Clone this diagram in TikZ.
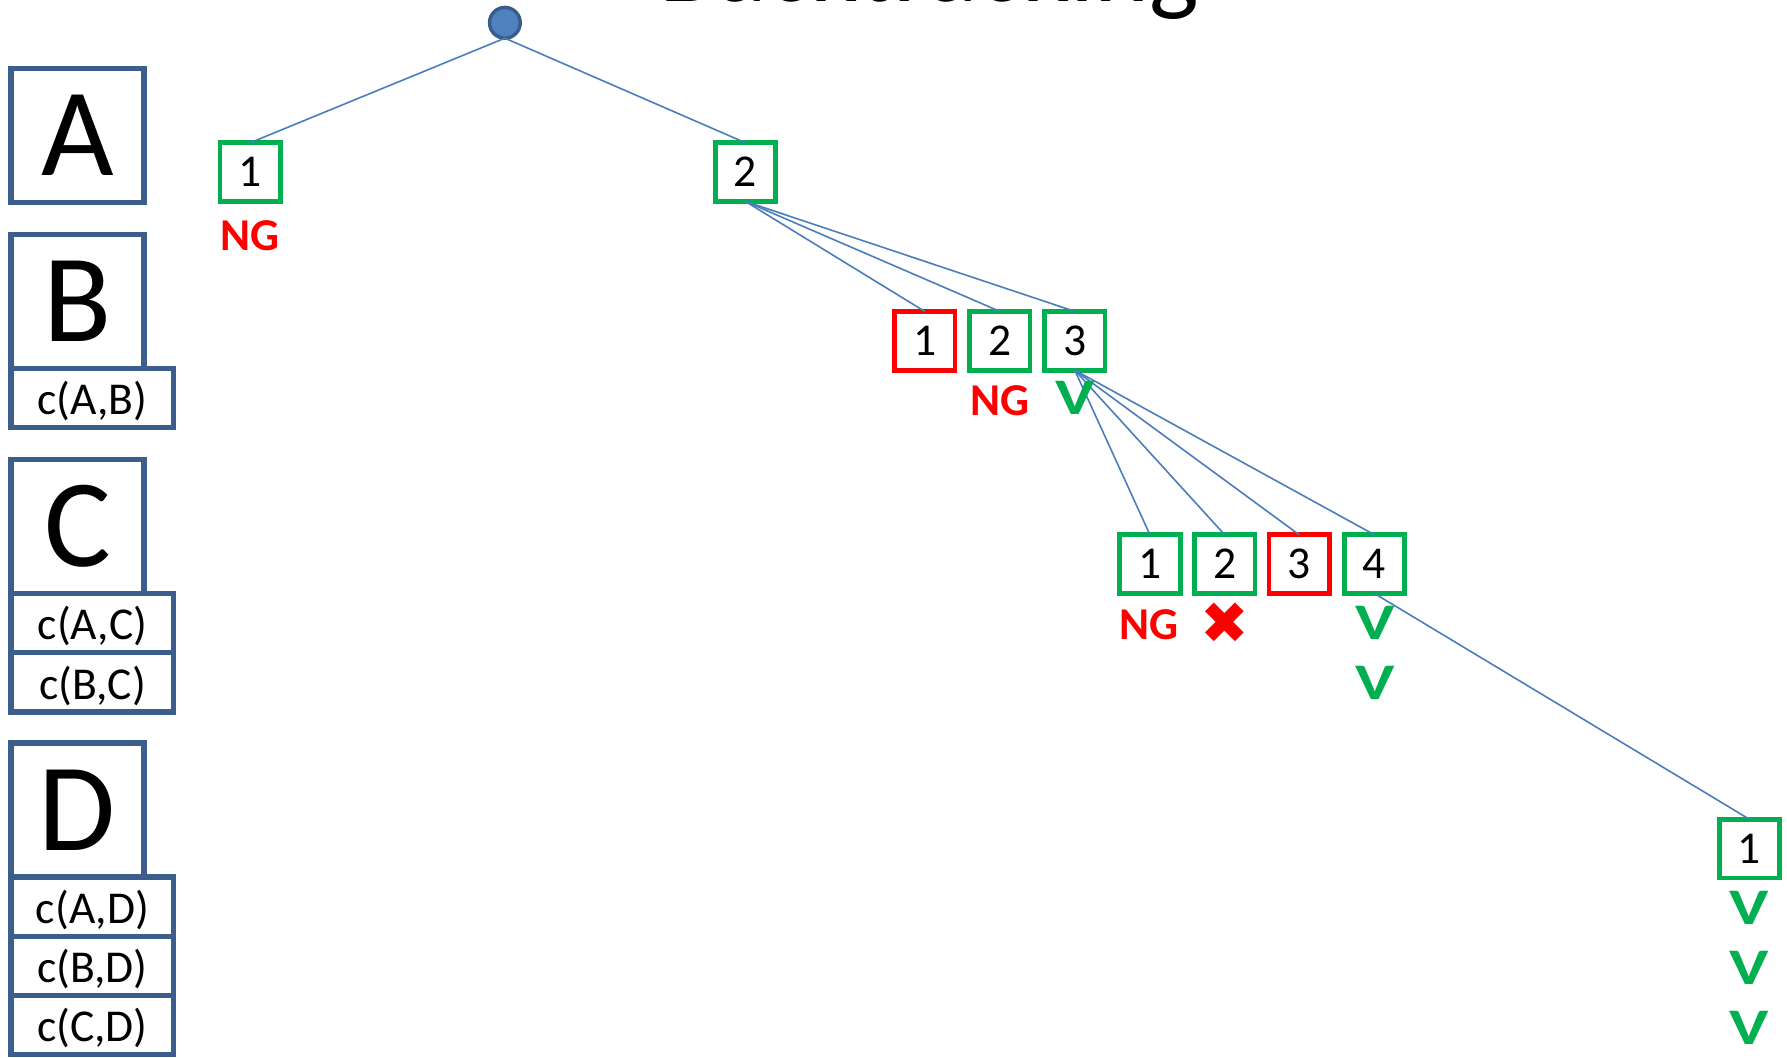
\documentclass[tikz,border=0pt]{standalone}
\usepackage{fontspec}
\setmainfont{Carlito}
\newfontfamily\symfont{DejaVu Sans}
\definecolor{boxblue}{HTML}{3B5E8C}
\definecolor{linkblue}{HTML}{4A7EBB}
\definecolor{rootfill}{HTML}{4F81BD}
\definecolor{rootdraw}{HTML}{385D8A}
\definecolor{okgreen}{HTML}{00B050}
\definecolor{ngred}{HTML}{FF0000}
\tikzset{
  lbox/.style={draw=boxblue, line width=4.7pt, inner sep=0pt, outer sep=0pt,
    minimum width=116.5pt, minimum height=117.5pt, anchor=north west,
    font=\fontsize{110}{110}\selectfont},
  cbox/.style={draw=boxblue, line width=4.7pt, inner sep=0pt, outer sep=0pt,
    minimum width=142.75pt, minimum height=52pt, anchor=north west,
    text depth=0pt, font=\fontsize{40}{42}\selectfont},
  tbox/.style={line width=4.2pt, inner sep=0pt, outer sep=0pt,
    minimum width=53pt, minimum height=51.5pt, fill=white,
    font=\fontsize{40}{42}\selectfont},
  gbox/.style={tbox, draw=okgreen},
  rbox/.style={tbox, draw=ngred},
  link/.style={draw=linkblue, line width=1.4pt},
  nglabel/.style={text=ngred, font=\fontsize{40}{42}\selectfont\bfseries, inner sep=0pt},
  oklabel/.style={text=okgreen, font=\fontsize{45}{46}\selectfont\bfseries, inner sep=0pt, xscale=1.3},
  xlabel/.style={text=ngred, font=\fontsize{51}{52}\selectfont\symfont, inner sep=0pt},
  rootdot/.style={circle, draw=rootdraw, fill=rootfill, line width=3pt, minimum size=27pt, inner sep=0pt, outer sep=0pt}
}
\begin{document}
\begin{tikzpicture}[x=1pt, y=-1pt]
\useasboundingbox (0,0) rectangle (1568,927.5);
\clip (0,0) rectangle (1568,927.5);
% title (cut off at the top)
\node[anchor=base, inner sep=0pt, font=\fontsize{92}{92}\selectfont] (title) at (815,1.2) {Backtracking};
% left column
\node[lbox] (A) at (9.75,60.25) {A};
\node[lbox] (B) at (9.75,205.75) {B};
\node[cbox] (cAB) at (B.south west) {c(A,B)};
\node[lbox] (C) at (9.75,403.25) {C};
\node[cbox] (cAC) at (C.south west) {c(A,C)};
\node[cbox] (cBC) at (cAC.south west) {c(B,C)};
\node[lbox] (D) at (9.75,652) {D};
\node[cbox] (cAD) at (D.south west) {c(A,D)};
\node[cbox] (cBD) at (cAD.south west) {c(B,D)};
\node[cbox] (cCD) at (cBD.south west) {c(C,D)};
% tree nodes
\node[rootdot] (root) at (443,20) {};
\node[gbox] (a1) at (219.5,151) {1};
\node[gbox] (a2) at (654,151) {2};
\node[rbox] (b1) at (811.4,299) {1};
\node[gbox] (b2) at (877.3,299) {2};
\node[gbox] (b3) at (943,299) {3};
\node[gbox] (c1) at (1009,495) {1};
\node[gbox] (c2) at (1074.6,495) {2};
\node[rbox] (c3) at (1140,495) {3};
\node[gbox] (c4) at (1206,495) {4};
\node[gbox] (d1) at (1535,744.6) {1};
% connectors
\draw[link] (root.south) -- (a1.north);
\draw[link] (root.south) -- (a2.north);
\draw[link] (a2.south) -- (b1.north);
\draw[link] (a2.south) -- (b2.north);
\draw[link] (a2.south) -- (b3.north);
\draw[link] (b3.south) -- (c1.north);
\draw[link] (b3.south) -- (c2.north);
\draw[link] (b3.south) -- (c3.north);
\draw[link] (b3.south) -- (c4.north);
\draw[link] (c4.south) -- (d1.north);
% labels
\node[nglabel] (ngA) at (219.5,206.4) {NG};
\node[nglabel] (ngB) at (877.5,351.4) {NG};
\node[oklabel] (okB) at (943,349.5) {V};
\node[nglabel] (ngC) at (1008.6,548) {NG};
\node[xlabel] (xC) at (1075,546.6) {✖};
\node[oklabel] (okC1) at (1207,546.6) {V};
\node[oklabel] (okC2) at (1207,599) {V};
\node[oklabel] (okD1) at (1535,797) {V};
\node[oklabel] (okD2) at (1535,849.6) {V};
\node[oklabel] (okD3) at (1535,901.8) {V};
\end{tikzpicture}
\end{document}
